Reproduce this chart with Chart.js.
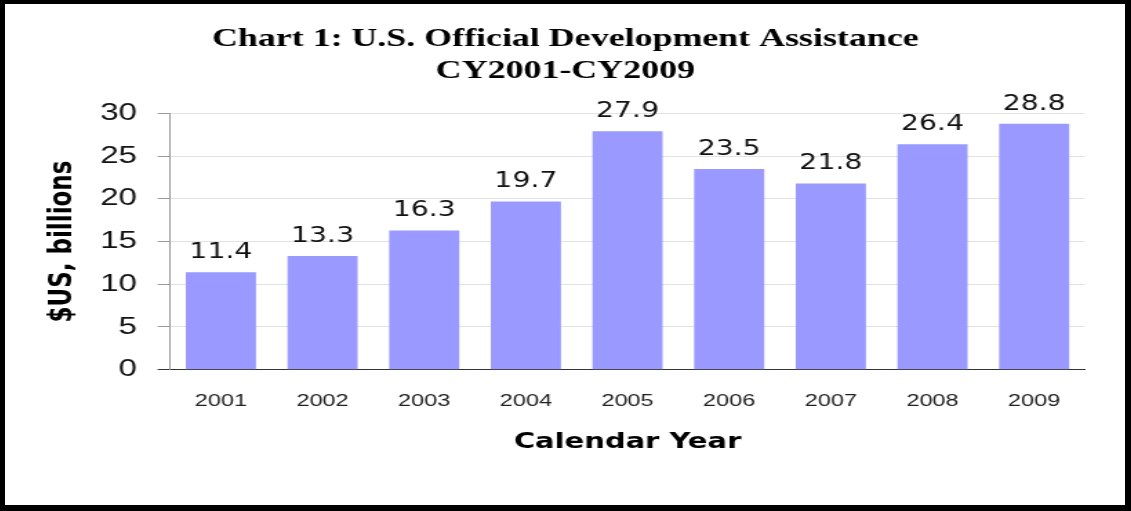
<!DOCTYPE html>
<html>
<head>
  <title>U.S. Official Development Assistance</title>
  <script src="https://cdn.jsdelivr.net/npm/chart.js"></script>
  <style>
    body { margin: 0; background: #fff; }
    #frame {
      position: relative;
      width: 1131px; height: 511px;
      box-sizing: border-box;
      border: 4px solid #000;
      border-left-width: 5px;
      border-right-width: 6px;
      border-bottom-width: 6px;
      background: #fff;
      overflow: hidden;
    }
    /* the whole chart is drawn narrow and stretched sideways */
    #oda-chart {
      position: absolute; left: 0; top: 0;
      transform: scaleX(1.38);
      transform-origin: 0 0;
    }
  </style>
</head>
<body>
  <div id="frame">
    <canvas id="oda-chart" width="812" height="501"></canvas>
  </div>
  <script>
    const years = ['2001', '2002', '2003', '2004', '2005', '2006', '2007', '2008', '2009'];
    const assistance = [11.4, 13.3, 16.3, 19.7, 27.9, 23.5, 21.8, 26.4, 28.8];
    const titleLines = ['Chart 1: U.S. Official Development Assistance', 'CY2001-CY2009'];
    const yMin = 0, yMax = 30, yStep = 5;

    // value printed above each bar
    const barLabels = {
      id: 'barLabels',
      afterDatasetsDraw(chart) {
        const ctx = chart.ctx;
        const meta = chart.getDatasetMeta(0);
        ctx.save();
        ctx.font = '20.5px "DejaVu Sans"';
        ctx.fillStyle = '#111';
        ctx.textAlign = 'center';
        ctx.textBaseline = 'alphabetic';
        meta.data.forEach((bar, i) => {
          ctx.fillText(assistance[i].toFixed(1), bar.x, bar.y - 14);
        });
        ctx.restore();
      }
    };

    const ctx = document.getElementById('oda-chart').getContext('2d');
    const odaChart = new Chart(ctx, {
      type: 'bar',
      data: {
        labels: years,
        datasets: [{
          data: assistance,
          backgroundColor: '#9999ff',
          borderWidth: 0,
          barPercentage: 0.69,
          categoryPercentage: 1
        }]
      },
      options: {
        responsive: false,
        animation: false,
        layout: { padding: 0 },
        plugins: {
          legend: { display: false },
          tooltip: { enabled: false },
          title: {
            display: true,
            text: titleLines,
            color: '#000',
            font: { family: '"Liberation Serif"', size: 26, weight: 'bold', lineHeight: 1.2 },
            padding: { top: 20, bottom: 27 }
          }
        },
        scales: {
          x: {
            grid: { display: false },
            border: { display: true, color: '#333', width: 1 },
            ticks: {
              color: '#222',
              font: { family: '"Liberation Sans"', size: 17 },
              padding: 13
            },
            title: {
              display: true,
              text: 'Calendar Year',
              color: '#000',
              font: { family: '"DejaVu Sans"', size: 21, weight: 'bold', lineHeight: 1.2 },
              padding: { top: 0, bottom: 49.7 }
            },
            afterFit(scale) { scale.height = 135.3; }
          },
          y: {
            min: yMin,
            max: yMax,
            ticks: {
              stepSize: yStep,
              color: '#111',
              font: { family: '"Liberation Sans"', size: 24 },
              padding: 15
            },
            grid: {
              color: c => c.tick && c.tick.value === 0 ? '#333' : '#e2e2e2',
              tickColor: c => c.tick && c.tick.value === 0 ? '#333' : '#999',
              tickLength: 9
            },
            border: { display: true, color: '#999', width: 1 },
            title: {
              display: true,
              text: '$US, billions',
              color: '#000',
              font: { family: '"DejaVu Sans"', size: 23, weight: 'bold', lineHeight: 1.2 },
              padding: { top: 28.2, bottom: 0 }
            },
            afterFit(scale) { scale.width = 119.6; }
          },
          // empty strip on the right so the title stays centred on the frame
          yRight: {
            position: 'right',
            display: true,
            grid: { display: false },
            border: { display: false },
            ticks: { display: false },
            afterFit(scale) { scale.width = 29.4; }
          }
        }
      },
      plugins: [barLabels]
    });
  </script>
</body>
</html>
